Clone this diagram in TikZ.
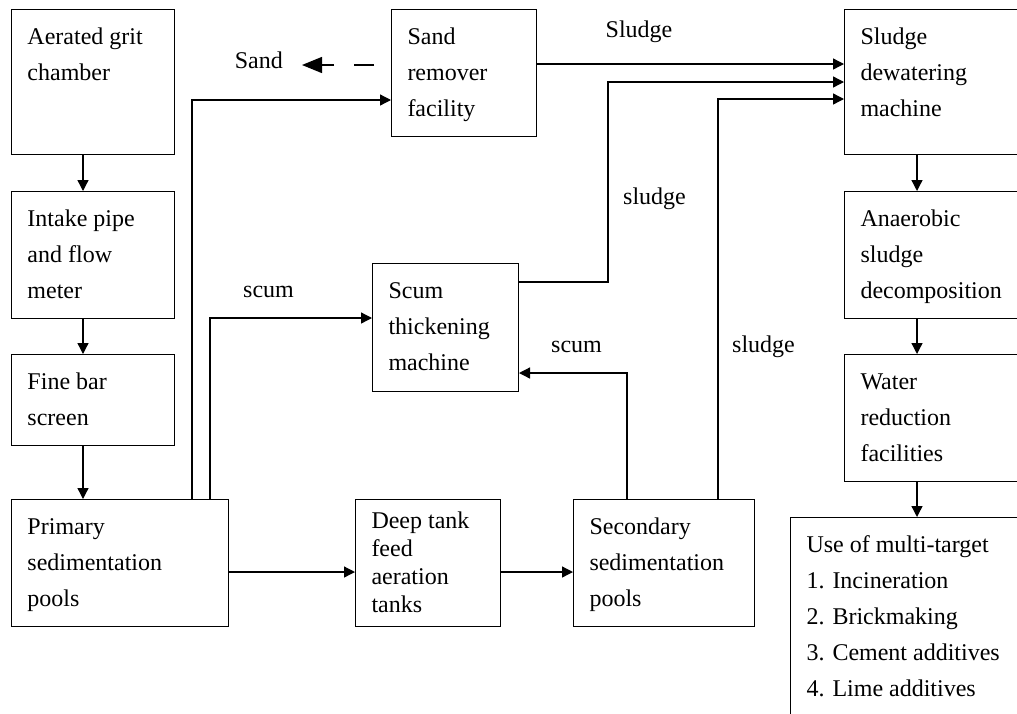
\documentclass[tikz,border=0pt]{standalone}
\usepackage{fontspec}
\setmainfont{Liberation Serif}
\usetikzlibrary{arrows.meta}

% text block inside a process box: top aligned, left inset
\newcommand{\stagetext}[3]{\parbox[c][#2][t]{#1}{\raggedright\leftskip=16pt\relax\vspace*{10pt}\strut#3}}

\begin{document}
\begin{tikzpicture}[x=1pt,y=-1pt,font=\fontsize{24}{36}\selectfont]
    \tikzset{
        stage/.style={draw, line width=1pt, anchor=north west, inner sep=0pt},
        flow/.style={-{Triangle[length=11pt,width=11pt]}, line width=1.3pt},
        lbl/.style={inner sep=0pt}
    }
    \useasboundingbox (0,0) rectangle (1017,713);
    \clip (0,0) rectangle (1017,713);

    % Pretreatment line
    \node[stage] (grit) at (11,9) {\stagetext{163pt}{145pt}{Aerated grit\\chamber}};
    \node[stage] (intake) at (11,191) {\stagetext{163pt}{127pt}{Intake pipe\\and flow\\meter}};
    \node[stage] (screen) at (11,354) {\stagetext{163pt}{91pt}{Fine bar\\screen}};
    \node[stage] (prim) at (11,499) {\stagetext{217pt}{127pt}{Primary\\sedimentation\\pools}};

    % Middle units
    \node[stage] (sand) at (391,9) {\stagetext{145pt}{127pt}{Sand\\remover\\facility}};
    \node[stage] (scum) at (372,263) {\stagetext{146pt}{128pt}{Scum\\thickening\\machine}};
    \node[stage, font=\fontsize{24}{27.7}\selectfont] (deep) at (355,499) {\stagetext{145pt}{127pt}{Deep tank\\feed\\aeration\\tanks}};
    \node[stage] (second) at (573,499) {\stagetext{181pt}{127pt}{Secondary\\sedimentation\\pools}};

    % Sludge treatment line
    \node[stage] (dewat) at (844,9) {\stagetext{200pt}{145pt}{Sludge\\dewatering\\machine}};
    \node[stage] (anaer) at (844,191) {\stagetext{200pt}{127pt}{Anaerobic\\sludge\\decomposition}};
    \node[stage] (water) at (844,354) {\stagetext{200pt}{127pt}{Water\\reduction\\facilities}};
    \node[stage] (use) at (790,517) {\stagetext{260pt}{220pt}{Use of multi-target\\1. Incineration\\2. Brickmaking\\3. Cement additives\\4. Lime additives}};

    % Main flow
    \draw[flow] (grit.south -| 83,0) -- (intake.north -| 83,0);
    \draw[flow] (intake.south -| 83,0) -- (screen.north -| 83,0);
    \draw[flow] (screen.south -| 83,0) -- (prim.north -| 83,0);
    \draw[flow] (prim.east |- 0,572) -- (deep.west |- 0,572);
    \draw[flow] (deep.east |- 0,572) -- (second.west |- 0,572);
    \draw[flow] (dewat.south -| 917,0) -- (anaer.north -| 917,0);
    \draw[flow] (anaer.south -| 917,0) -- (water.north -| 917,0);
    \draw[flow] (water.south -| 917,0) -- (use.north -| 917,0);

    % Side streams
    \draw[flow] (prim.north -| 192,0) |- (sand.west |- 0,100);
    \draw[flow] (prim.north -| 210,0) |- (scum.west |- 0,318);
    \draw[flow] (sand.east |- 0,64) -- (dewat.west |- 0,64);
    \draw[flow] (scum.east |- 0,282) -| (608,82) -- (dewat.west |- 0,82);
    \draw[flow] (second.north -| 627,0) |- (scum.east |- 0,373);
    \draw[flow] (second.north -| 718,0) |- (dewat.west |- 0,99);

    % Sand discharge
    \coordinate (sandtip) at (302,65);
    \draw[-{Triangle[length=20pt,width=16pt]}, line width=1.3pt, dash pattern=on 20pt off 20pt, shorten <=17pt]
        (sand.west |- 0,65) -- (sandtip);

    % Annotations
    \node[lbl, anchor=base east] (sandlbl) at (283,68) {Sand};
    \node[lbl, anchor=base] (sludgea) at (639,37) {Sludge};
    \node[lbl, anchor=base west] (sludgeb) at (623,204) {sludge};
    \node[lbl, anchor=base west] (sludgec) at (732,352) {sludge};
    \node[lbl, anchor=base west] (scuma) at (243,297) {scum};
    \node[lbl, anchor=base west] (scumb) at (551,352) {scum};
\end{tikzpicture}
\end{document}
